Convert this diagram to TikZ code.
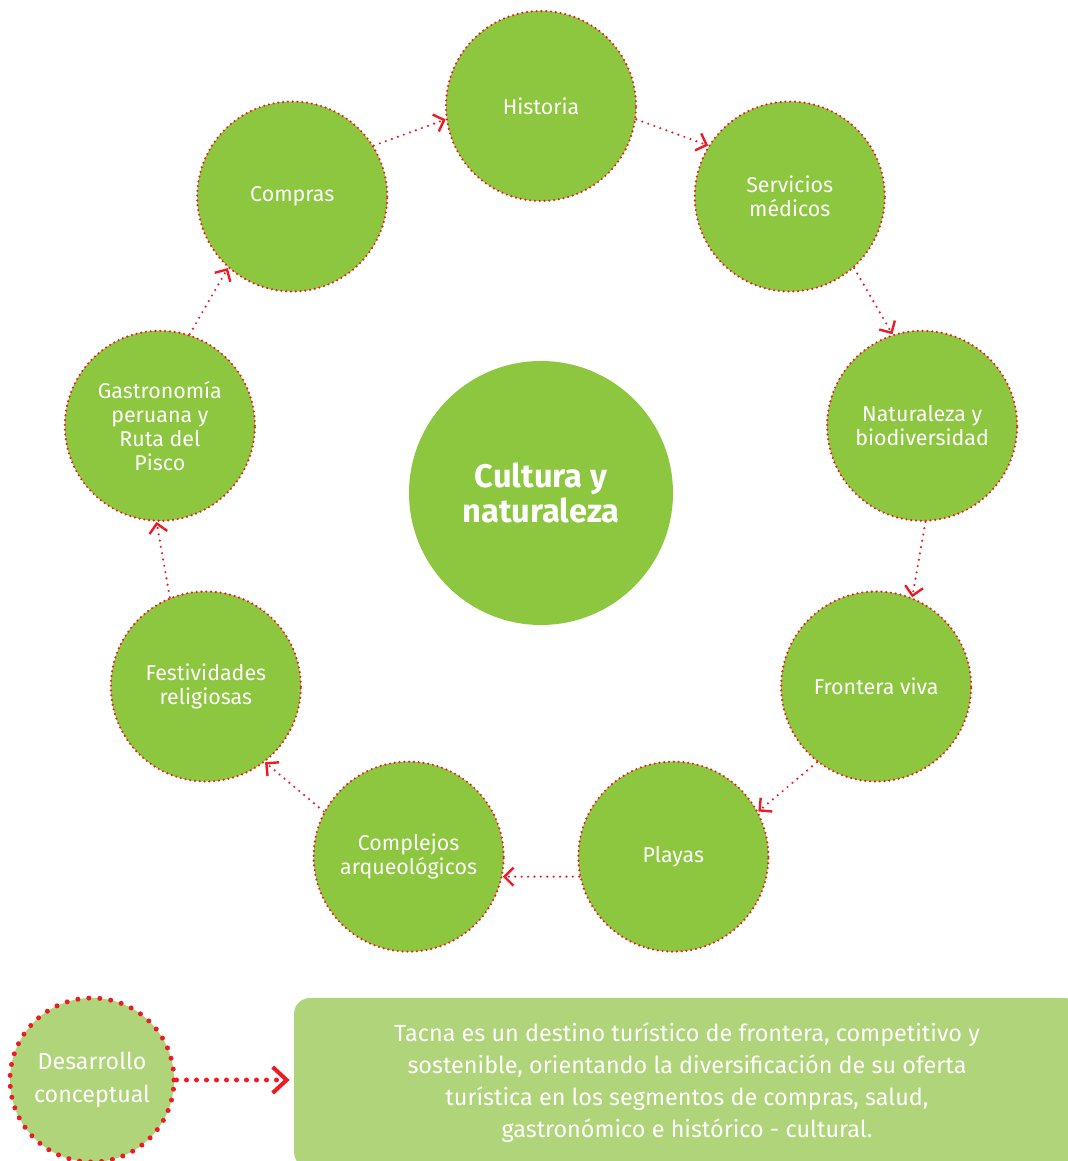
\documentclass[tikz,border=0pt]{standalone}
\usepackage{fontspec}
\setmainfont{Fira Sans}
\usetikzlibrary{arrows.meta,calc}
\definecolor{leaf}{RGB}{141,198,63}
\definecolor{pale}{RGB}{176,212,122}
\definecolor{dotred}{RGB}{237,28,36}
\tikzset{
  topic/.style={circle, fill=leaf, draw=dotred, line width=1.2pt, line cap=round,
    dash pattern=on 0pt off 2.4pt, minimum size=95pt, text=white, align=center,
    font=\fontsize{10.7}{12}\selectfont},
  link/.style={draw=dotred, line width=1.2pt, line cap=round, dash pattern=on 0pt off 3.2pt,
    -{Straight Barb[length=4.5pt,width=9pt,line width=1.2pt]}}
}
\begin{document}
\begin{tikzpicture}[x=0.5pt, y=0.5pt]
  \useasboundingbox (0,0) rectangle (1068,1161);
  \clip (0,0) rectangle (1068,1161);
  \coordinate (O) at (541,668);
  \node[circle, fill=leaf, minimum size=132pt, text=white, align=center,
    font=\bfseries\fontsize{16.3}{17.5}\selectfont] (CN) at (O) {Cultura y\\naturaleza};
  % ring of topics
  \foreach \n/\a/\t in {H/90/Historia, S/50/Servicios\\médicos,
      N/10/Naturaleza y\\biodiversidad, F/-30/Frontera viva, P/-70/Playas,
      A/-110/Complejos\\arqueológicos, R/-150/Festividades\\religiosas,
      G/170/Gastronomía\\peruana y\\Ruta del\\Pisco, C/130/Compras}
    \node[topic] (\n) at ($(O)+(\a:387)$) {\t};
  \foreach \a/\b/\ang [evaluate=\ang as \s using int(\ang-98),
      evaluate=\ang as \e using int(\ang+58)] in
      {C/H/130, H/S/90, S/N/50, N/F/10, F/P/-30, P/A/-70, A/R/-110, R/G/-150, G/C/170}
    \draw[link] (\a.\s) -- (\b.\e);
  % bottom
  \node[circle, fill=pale, draw=dotred, line width=2.5pt, line cap=round,
    dash pattern=on 0pt off 5.5pt, minimum size=82pt, text=white, align=center,
    font=\fontsize{11.6}{16.5}\selectfont] (D) at (92,81) {Desarrollo\\conceptual};
  \node[fill=pale, rounded corners=8pt, minimum width=393pt, minimum height=85pt,
    text=white, align=center, font=\fontsize{11.7}{16}\selectfont] (T) at (687,78)
    {Tacna es un destino turístico de frontera, competitivo y\\
     sostenible, orientando la diversificación de su oferta\\
     turística en los segmentos de compras, salud,\\
     gastronómico e histórico - cultural.};
  \draw[draw=dotred, line width=2.5pt, line cap=round, dash pattern=on 0pt off 5pt,
    -{Straight Barb[length=7pt,width=13pt,line width=2pt]}, shorten >=2pt]
    (D.east) -- (D.east -| T.west);
\end{tikzpicture}
\end{document}
